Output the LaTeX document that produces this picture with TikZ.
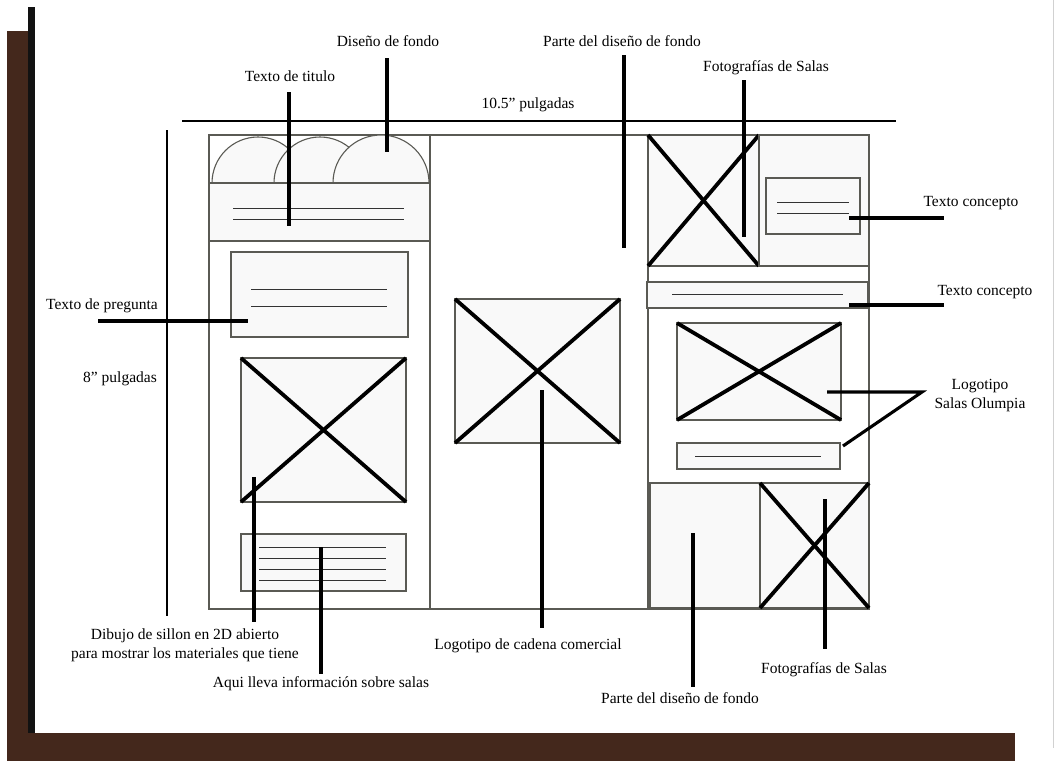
\documentclass[tikz,border=0pt]{standalone}
\usepackage{fontspec}
\setmainfont{Liberation Serif}
\definecolor{brownbg}{RGB}{68,40,28}
\definecolor{boxfill}{RGB}{249,249,249}
\definecolor{boxline}{RGB}{90,90,84}
\begin{document}
\begin{tikzpicture}[x=1pt,y=-1pt,
  box/.style={draw=boxline,fill=boxfill,line width=1.1pt},
  frame/.style={draw=boxline,line width=1.1pt},
  txtline/.style={draw=black!80,line width=1pt},
  cross/.style={line width=3.8pt},
  leader/.style={line width=3.1pt},
  dimline/.style={line width=2.4pt},
  lbl/.style={font=\fontsize{15.5}{19}\selectfont,inner sep=0pt,align=center}]
\useasboundingbox (0,0) rectangle (1054,761);
\fill[white] (0,0) rectangle (1054,761);
% page border
\fill[brownbg] (7,31) rectangle (28,761);
\fill[brownbg] (7,733) rectangle (1015,761);
\fill[black!93] (28,7) rectangle (35,733);
\draw[black!18,line width=0.8pt] (1053,0) -- (1053,748);

% main frame
\draw[frame] (209,135) rectangle (869,609);
\draw[frame] (430,135) -- (430,609);
\draw[frame] (648,135) -- (648,609);

% left column: background arcs and title
\filldraw[box] (212,183) arc (180:360:46) -- cycle;
\filldraw[box] (274,183) arc (180:360:46) -- cycle;
\filldraw[box] (333,183) arc (180:360:48) -- cycle;
\draw[box] (209,183) rectangle (430,241);
\draw[txtline] (233,208) -- (404,208);
\draw[txtline] (233,219) -- (404,219);
% question box
\draw[box] (231,252) rectangle (408,337);
\draw[txtline] (251,289) -- (387,289);
\draw[txtline] (251,306) -- (387,306);
% sofa image
\draw[box] (241,358) rectangle (406,502);
\draw[cross] (241,358) -- (406,502) (406,358) -- (241,502);
% info box
\draw[box] (241,534) rectangle (406,591);
\foreach \yy in {547,558,569,580} \draw[txtline] (259,\yy) -- (386,\yy);

% middle: chain logo
\draw[box] (455,299) rectangle (620,443);
\draw[cross] (455,299) -- (620,443) (620,299) -- (455,443);

% right column
\draw[box] (648,135) rectangle (759,266);
\draw[cross] (648,135) -- (759,266) (759,135) -- (648,266);
\draw[box] (759,135) rectangle (869,266);
\draw[box] (766,178) rectangle (860,234);
\draw[txtline] (777,202) -- (849,202);
\draw[txtline] (777,213) -- (849,213);
\draw[box] (647,282) rectangle (868,308);
\draw[txtline] (672,294) -- (843,294);
\draw[box] (677,323) rectangle (841,420);
\draw[cross] (677,323) -- (841,420) (841,323) -- (677,420);
\draw[box] (677,443) rectangle (840,469);
\draw[txtline] (695,456) -- (821,456);
\draw[box] (650,483) rectangle (760,608);
\draw[box] (760,483) rectangle (869,608);
\draw[cross] (760,483) -- (869,608) (869,483) -- (760,608);

% dimensions
\coordinate (hL) at (182,121);
\coordinate (hR) at (896,121);
\draw[dimline] (hL) -- (hR);
\node[lbl] (lblAncho) at (528,105) {10.5” pulgadas};
\coordinate (vT) at (167,130);
\coordinate (vB) at (167,616);
\draw[dimline] (vT) -- (vB);
\node[lbl] (lblAlto) at (120,379) {8” pulgadas};

% labels
\node[lbl] (lblTitulo) at (290,76) {Texto de titulo};
\node[lbl] (lblDiseno) at (388,41) {Diseño de fondo};
\node[lbl] (lblParteTop) at (622,41) {Parte del diseño de fondo};
\node[lbl] (lblFotoTop) at (766,68) {Fotografías de Salas};
\node[lbl] (lblConcepto1) at (971,203) {Texto concepto};
\node[lbl] (lblConcepto2) at (985,292) {Texto concepto};
\node[lbl] (lblOlumpia) at (980,396) {Logotipo\\Salas Olumpia};
\node[lbl] (lblPregunta) at (102,306) {Texto de pregunta};
\node[lbl] (lblDibujo) at (185,645) {Dibujo de sillon en 2D abierto\\para mostrar los materiales que tiene};
\node[lbl] (lblAqui) at (321,684) {Aqui lleva información sobre salas};
\node[lbl] (lblCadena) at (528,646) {Logotipo de cadena comercial};
\node[lbl] (lblParteBot) at (680,698) {Parte del diseño de fondo};
\node[lbl] (lblFotoBot) at (824,670) {Fotografías de Salas};

% leader coordinates
\coordinate (tituloA) at (289,92);   \coordinate (tituloB) at (289,226);
\coordinate (disenoA) at (387,58);   \coordinate (disenoB) at (387,152);
\coordinate (parteTA) at (624,55);   \coordinate (parteTB) at (624,248);
\coordinate (fotoTA) at (744,80);    \coordinate (fotoTB) at (744,237);
\coordinate (conc1A) at (849,218);   \coordinate (conc1B) at (944,218);
\coordinate (conc2A) at (849,305);   \coordinate (conc2B) at (944,305);
\coordinate (olumA) at (827,392);    \coordinate (olumJ) at (922,392);
\coordinate (olumC) at (843,446);
\coordinate (pregA) at (98,321);     \coordinate (pregB) at (248,321);
\coordinate (dibA) at (254,477);     \coordinate (dibB) at (254,622);
\coordinate (aquiA) at (321,547);    \coordinate (aquiB) at (321,674);
\coordinate (cadA) at (542,390);     \coordinate (cadB) at (542,628);
\coordinate (parteBA) at (693,533);  \coordinate (parteBB) at (693,687);
\coordinate (fotoBA) at (825,499);   \coordinate (fotoBB) at (825,649);

\draw[leader] (tituloA) -- (tituloB);
\draw[leader] (disenoA) -- (disenoB);
\draw[leader] (parteTA) -- (parteTB);
\draw[leader] (fotoTA) -- (fotoTB);
\draw[leader] (conc1A) -- (conc1B);
\draw[leader] (conc2A) -- (conc2B);
\draw[leader] (olumA) -- (olumJ) -- (olumC);
\draw[leader] (pregA) -- (pregB);
\draw[leader] (dibA) -- (dibB);
\draw[leader] (aquiA) -- (aquiB);
\draw[leader] (cadA) -- (cadB);
\draw[leader] (parteBA) -- (parteBB);
\draw[leader] (fotoBA) -- (fotoBB);
\end{tikzpicture}
\end{document}
